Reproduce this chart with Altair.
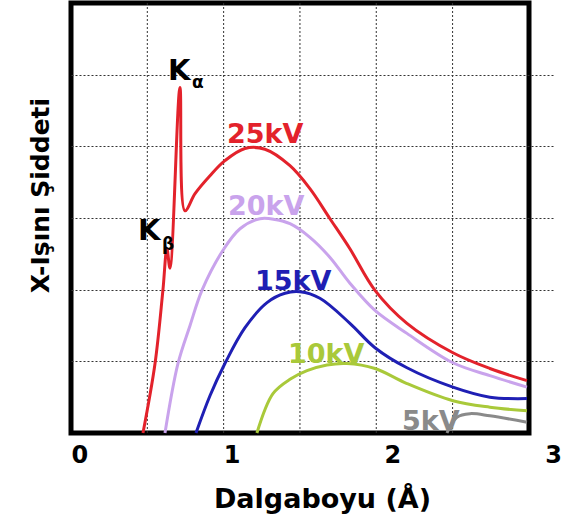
import altair as alt
import pandas as pd

X_MAX = 3.0
Y_MAX = 6

series_names = ["25kV", "20kV", "15kV", "10kV", "5kV"]
series_colors = ["#e3222b", "#c9a3ec", "#1f1fb4", "#a9c93a", "#8a8a8a"]

kv25_x = [0.448, 0.523, 0.572, 0.597, 0.616, 0.678, 0.709, 0.772, 0.865, 0.958, 1.083,
          1.207, 1.363, 1.487, 1.612, 1.736, 1.892, 2.091, 2.377, 2.607, 2.838]
kv25_y = [0.0, 0.97, 1.99, 2.57, 2.30, 4.82, 3.10, 3.34, 3.59, 3.80, 3.97,
          3.96, 3.73, 3.41, 2.99, 2.57, 1.99, 1.53, 1.12, 0.90, 0.73]

kv20_x = [0.585, 0.666, 0.741, 0.815, 0.946, 1.052, 1.176, 1.269, 1.363, 1.487, 1.612,
          1.736, 1.892, 2.091, 2.377, 2.607, 2.838]
kv20_y = [0.0, 0.97, 1.50, 1.99, 2.55, 2.85, 2.99, 2.98, 2.92, 2.73, 2.45,
          2.09, 1.71, 1.39, 0.98, 0.80, 0.64]

kv15_x = [0.778, 0.865, 0.958, 1.083, 1.220, 1.332, 1.425, 1.549, 1.736, 1.892, 2.091,
          2.377, 2.607, 2.838]
kv15_y = [0.0, 0.52, 0.97, 1.47, 1.82, 1.95, 1.97, 1.88, 1.53, 1.19, 0.91,
          0.64, 0.50, 0.48]

kv10_x = [1.157, 1.257, 1.363, 1.469, 1.593, 1.717, 1.892, 2.091, 2.377, 2.607, 2.838]
kv10_y = [0.0, 0.55, 0.75, 0.87, 0.95, 0.97, 0.90, 0.69, 0.45, 0.36, 0.31]

kv5_x = [2.340, 2.402, 2.483, 2.607, 2.838]
kv5_y = [0.0, 0.22, 0.27, 0.24, 0.15]

# series annotation labels (left edge / baseline, in data units)
kv_label_x = [0.971, 0.977, 1.145, 1.350, 2.060]
kv_label_y = [4.05, 3.04, 1.99, 0.98, 0.035]

# characteristic lines labels
k_main = ["K", "K"]
k_main_x = [0.604, 0.417]
k_main_y = [4.92, 2.69]
k_sub = ["α", "β"]
k_sub_x = [0.753, 0.566]
k_sub_y = [4.82, 2.55]

grid_x = [0.475, 0.95, 1.425, 1.9, 2.375]
grid_y = [1, 2, 3, 4, 5]
tick_x = [0, 1, 2, 3]

rows = []
for name, xs, ys in zip(series_names,
                        [kv25_x, kv20_x, kv15_x, kv10_x, kv5_x],
                        [kv25_y, kv20_y, kv15_y, kv10_y, kv5_y]):
    for i, (a, b) in enumerate(zip(xs, ys)):
        rows.append({"series": name, "x": a, "y": b, "i": i})
lines_df = pd.DataFrame(rows)

labels_df = pd.DataFrame({"series": series_names, "label": series_names,
                          "x": kv_label_x, "y": kv_label_y})
kmain_df = pd.DataFrame({"label": k_main, "x": k_main_x, "y": k_main_y})
ksub_df = pd.DataFrame({"label": k_sub, "x": k_sub_x, "y": k_sub_y})
gridx_df = pd.DataFrame({"x": grid_x})

FONT = "DejaVu Sans"
PLOT_W = 458
PLOT_H = 430

x_enc = alt.X(
    "x:Q",
    # the axis runs on to 3 Å just past the right edge of the framed plot
    scale=alt.Scale(domain=[0, X_MAX], range=[0, 482], nice=False, zero=False),
    axis=alt.Axis(
        values=tick_x, grid=False, ticks=False, tickSize=0, domain=False,
        labelPadding=29, labelBaseline="alphabetic", labelFont=FONT,
        labelFontWeight="bold", labelFontSize=24, labelColor="black",
        labelAlign={"condition": {"test": "datum.value === 0", "value": "left"}, "value": "center"},
        labelOverlap=False,
        title="Dalgaboyu (Å)", titleX=251, titleY=74, titleBaseline="alphabetic",
        titleAlign="center", titleFont=FONT, titleFontSize=27, titleFontWeight="bold",
        titleColor="black",
    ),
)
y_enc = alt.Y(
    "y:Q",
    scale=alt.Scale(domain=[0, Y_MAX], nice=False, zero=False),
    axis=alt.Axis(
        values=grid_y, grid=True, gridDash=[2, 2], gridColor="#333333", gridWidth=1,
        gridOpacity=1, labels=False, ticks=False, domain=False,
        title="X-Işını Şiddeti", titleX=-23, titleY=192, titleAngle=270,
        titleAlign="center", titleBaseline="alphabetic", titleFont=FONT,
        titleFontSize=25, titleFontWeight="bold", titleColor="black",
    ),
)
color_scale = alt.Scale(domain=series_names, range=series_colors)

grid_rules = alt.Chart(gridx_df).mark_rule(
    strokeDash=[2, 2], color="#333333", strokeWidth=1
).encode(x=x_enc)

lines = alt.Chart(lines_df).mark_line(strokeWidth=3, interpolate="catmull-rom").encode(
    x=x_enc, y=y_enc,
    color=alt.Color("series:N", scale=color_scale, legend=None),
    order="i:Q",
)

kv_text = alt.Chart(labels_df).mark_text(
    align="left", baseline="alphabetic", font=FONT, fontWeight="bold", fontSize=27
).encode(
    x=x_enc, y=y_enc, text="label:N",
    color=alt.Color("series:N", scale=color_scale, legend=None),
)

k_text = alt.Chart(kmain_df).mark_text(
    align="left", baseline="alphabetic", font=FONT, fontSize=29, fontWeight="bold",
    color="black"
).encode(x=x_enc, y=y_enc, text="label:N")

k_sub_text = alt.Chart(ksub_df).mark_text(
    align="left", baseline="alphabetic", font=FONT, fontSize=17, fontWeight="bold", color="black"
).encode(x=x_enc, y=y_enc, text="label:N")

chart = alt.layer(grid_rules, lines, kv_text, k_text, k_sub_text).properties(
    width=PLOT_W, height=PLOT_H,
    autosize=alt.AutoSizeParams(type="none"),
    padding={"left": 71, "top": 3, "right": 33, "bottom": 93},
    background="white",
).configure_view(stroke="black", strokeWidth=5)

chart.save("out.html", embed_options={"renderer": "svg", "actions": False})
